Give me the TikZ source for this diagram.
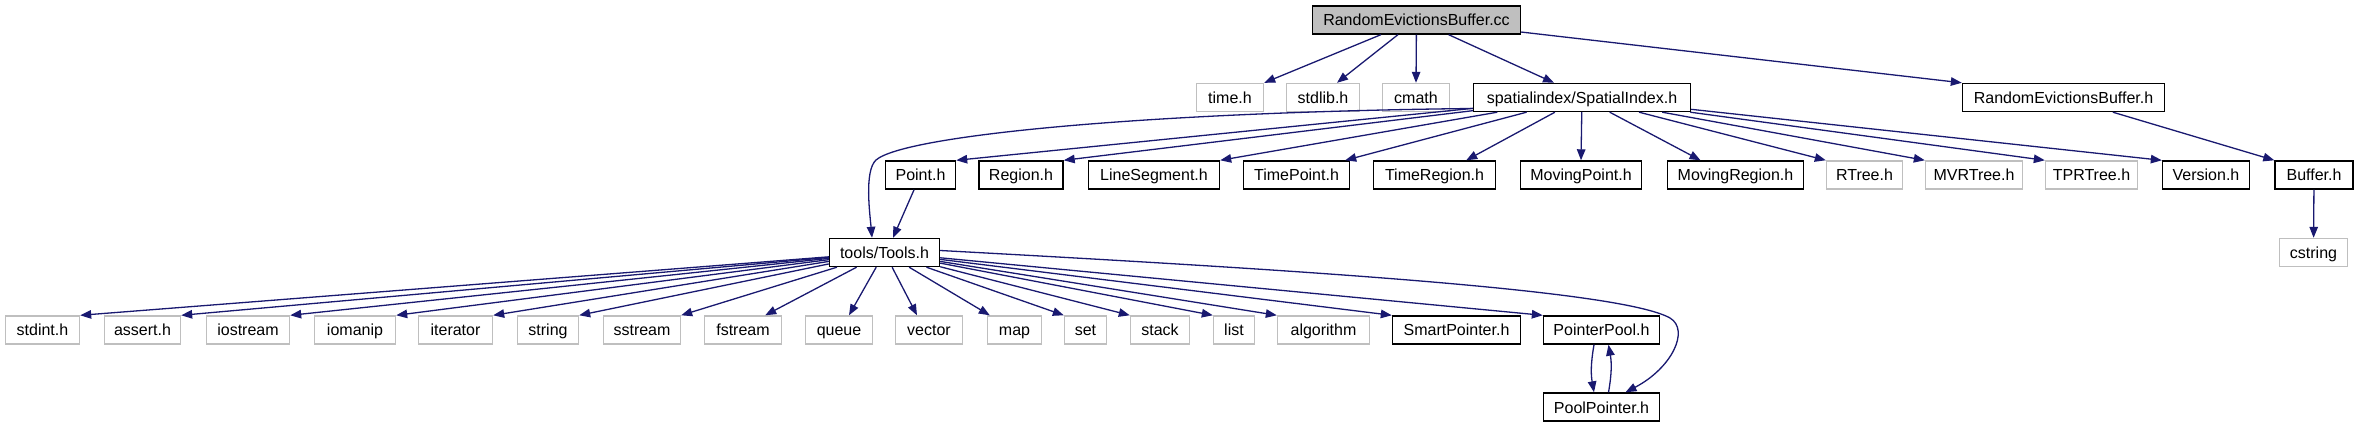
\documentclass[tikz,border=0pt]{standalone}
\usepackage{fontspec}
\setmainfont{Liberation Sans}
\usetikzlibrary{arrows.meta}
\definecolor{edgeblue}{HTML}{191970}
\definecolor{boxgray}{HTML}{BFBFBF}
\definecolor{rootgray}{HTML}{BFBFBF}
\tikzset{
  box/.style={draw=black, line width=1.4pt, minimum height=28pt, inner sep=0pt,
    text height=12pt, text depth=0pt, font=\fontsize{16}{16}\selectfont},
  sysbox/.style={box, draw=boxgray},
  rootbox/.style={box, fill=rootgray},
  edge/.style={draw=edgeblue, line width=1.3pt, -{Triangle[length=11pt,width=8.5pt]}},
}
\begin{document}
\begin{tikzpicture}[x=1pt,y=-1pt]
\useasboundingbox (0,0) rectangle (2357,427);
% row 1
\node[rootbox, minimum width=208pt] (root) at (1416.5,20) {RandomEvictionsBuffer.cc};
% row 2
\node[sysbox, minimum width=67pt] (time) at (1230,97.5) {time.h};
\node[sysbox, minimum width=73pt] (stdlib) at (1323,97.5) {stdlib.h};
\node[sysbox, minimum width=67pt] (cmath) at (1416,97.5) {cmath};
\node[box, minimum width=217pt] (si) at (1582,97.5) {spatialindex/SpatialIndex.h};
\node[box, minimum width=202pt] (reb) at (2063.5,97.5) {RandomEvictionsBuffer.h};
% row 3
\node[box, minimum width=70pt] (point) at (920.5,175) {Point.h};
\node[box, minimum width=84pt] (region) at (1021,175) {Region.h};
\node[box, minimum width=131pt] (lineseg) at (1154,175) {LineSegment.h};
\node[box, minimum width=106pt] (timepoint) at (1296.5,175) {TimePoint.h};
\node[box, minimum width=122pt] (timeregion) at (1434.5,175) {TimeRegion.h};
\node[box, minimum width=121pt] (movingpoint) at (1581,175) {MovingPoint.h};
\node[box, minimum width=136pt] (movingregion) at (1735.5,175) {MovingRegion.h};
\node[sysbox, minimum width=76pt] (rtree) at (1864.5,175) {RTree.h};
\node[sysbox, minimum width=97pt] (mvrtree) at (1974,175) {MVRTree.h};
\node[sysbox, minimum width=92pt] (tprtree) at (2091.5,175) {TPRTree.h};
\node[box, minimum width=87pt] (version) at (2206,175) {Version.h};
\node[box, minimum width=78pt] (buffer) at (2314,175) {Buffer.h};
% row 4
\node[box, minimum width=110pt] (tools) at (884.5,252.5) {tools/Tools.h};
\node[sysbox, minimum width=68pt] (cstring) at (2313.5,252.5) {cstring};
% row 5
\node[sysbox, minimum width=74pt] (stdint) at (42.5,330) {stdint.h};
\node[sysbox, minimum width=76pt] (assert) at (142.5,330) {assert.h};
\node[sysbox, minimum width=83pt] (iostream) at (248,330) {iostream};
\node[sysbox, minimum width=81pt] (iomanip) at (355,330) {iomanip};
\node[sysbox, minimum width=74pt] (iterator) at (455.5,330) {iterator};
\node[sysbox, minimum width=61pt] (string) at (548,330) {string};
\node[sysbox, minimum width=77pt] (sstream) at (642,330) {sstream};
\node[sysbox, minimum width=77pt] (fstream) at (743,330) {fstream};
\node[sysbox, minimum width=67pt] (queue) at (839,330) {queue};
\node[sysbox, minimum width=67pt] (vector) at (929,330) {vector};
\node[sysbox, minimum width=54pt] (map) at (1014.5,330) {map};
\node[sysbox, minimum width=42pt] (set) at (1085.5,330) {set};
\node[sysbox, minimum width=59pt] (stack) at (1160,330) {stack};
\node[sysbox, minimum width=41pt] (list) at (1234,330) {list};
\node[sysbox, minimum width=92pt] (algorithm) at (1323.5,330) {algorithm};
\node[box, minimum width=128pt] (smartptr) at (1456.5,330) {SmartPointer.h};
\node[box, minimum width=116pt] (ptrpool) at (1601.5,330) {PointerPool.h};
% row 6
\node[box, minimum width=116pt] (poolptr) at (1601.5,407) {PoolPointer.h};
% helper coordinates for the curved connectors
\coordinate (bendA) at (876,160);
\coordinate (bendB) at (1670,318);
% edges from the root
\draw[edge] (root) -- (time.north east);
\draw[edge] (root) -- ([xshift=14pt]stdlib.north);
\draw[edge] (root) -- (cmath.north);
\draw[edge] (root) -- ([xshift=-28pt]si.north);
\draw[edge] (root) -- (reb.north west);
% edges from SpatialIndex.h
\draw[edge] ([yshift=-11pt]si.west) .. controls (1150,112) and (905,135) .. (bendA)
   .. controls (864,171) and (870,215) .. ([xshift=-12.5pt]tools.north);
\draw[edge] (si) -- (point.north east);
\draw[edge] (si) -- (region.north east);
\draw[edge] (si) -- (lineseg.north east);
\draw[edge] (si) -- ([xshift=-5pt]timepoint.north east);
\draw[edge] (si) -- ([xshift=-30pt]timeregion.north east);
\draw[edge] (si) -- (movingpoint.north);
\draw[edge] (si) -- ([xshift=-35pt]movingregion.north);
\draw[edge] (si) -- (rtree.north west);
\draw[edge] (si) -- (mvrtree.north west);
\draw[edge] (si) -- (tprtree.north west);
\draw[edge] (si) -- (version.north west);
% other edges
\draw[edge] (reb) -- (buffer.north west);
\draw[edge] (buffer) -- (cstring);
\draw[edge] (point) -- ([xshift=8.5pt]tools.north);
% edges from Tools.h
\draw[edge] (tools) -- (stdint.north east);
\draw[edge] (tools) -- (assert.north east);
\draw[edge] (tools) -- (iostream.north east);
\draw[edge] (tools) -- (iomanip.north east);
\draw[edge] (tools) -- (iterator.north east);
\draw[edge] (tools) -- (string.north east);
\draw[edge] (tools) -- (sstream.north east);
\draw[edge] (tools) -- ([xshift=-17pt]fstream.north east);
\draw[edge] (tools) -- ([xshift=10pt]queue.north);
\draw[edge] (tools) -- ([xshift=-12pt]vector.north);
\draw[edge] (tools) -- ([xshift=3pt]map.north west);
\draw[edge] (tools) -- (set.north west);
\draw[edge] (tools) -- (stack.north west);
\draw[edge] (tools) -- (list.north west);
\draw[edge] (tools) -- (algorithm.north west);
\draw[edge] (tools) -- (smartptr.north west);
\draw[edge] (tools) -- (ptrpool.north west);
\draw[edge] ([yshift=2pt]tools.east) .. controls (1300,270) and (1620,290) .. (bendB)
   .. controls (1690,330) and (1672,368) .. ([xshift=24pt]poolptr.north);
% PointerPool <-> PoolPointer
\draw[edge] ([xshift=-7.5pt]ptrpool.south) to[out=-100,in=100] ([xshift=-7.5pt]poolptr.north);
\draw[edge] ([xshift=7pt]poolptr.north) to[out=80,in=-80] ([xshift=7pt]ptrpool.south);
\end{tikzpicture}
\end{document}
